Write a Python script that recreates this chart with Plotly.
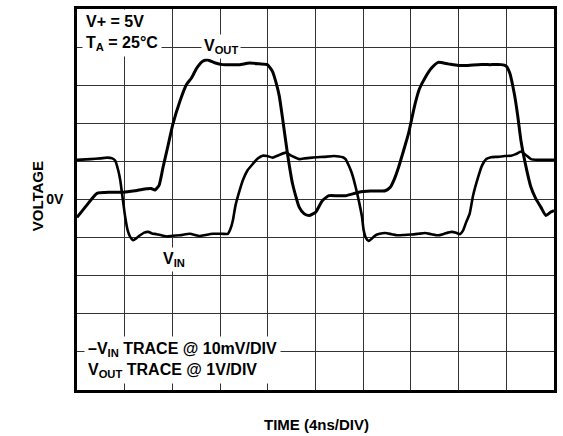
import plotly.graph_objects as go

# time in ns (4 ns/div), voltage in divisions (VOUT: 1 V/div, -VIN: 10 mV/div)
vout_t = [0, 0.79, 1.68, 2.79, 3.88, 4.88, 5.85, 6.21, 6.54, 6.88, 7.21, 7.63, 8.04, 8.63,
          9.18, 9.6, 10.04, 10.54, 10.96, 11.54, 12.21, 12.96, 13.63, 14.46, 15.29, 15.96,
          16.38, 16.71, 16.96, 17.23, 17.65, 18.07, 18.63, 19.04, 19.46, 20.02, 20.57, 21.13,
          21.79, 22.52, 23.63, 24.63, 25.85, 26.27, 26.63, 26.96, 27.38, 27.79, 28.35, 28.71,
          29.18, 29.73, 30.29, 31.13, 31.96, 32.79, 33.63, 34.63, 35.57, 35.96, 36.29, 36.68,
          36.96, 37.23, 37.63, 38.07, 38.46, 38.9, 39.32, 39.73, 40.0]
vout_v = [-0.47, -0.16, 0.16, 0.19, 0.19, 0.23, 0.28, 0.29, 0.25, 0.37, 0.84, 1.41, 1.98, 2.58,
          3.02, 3.19, 3.45, 3.63, 3.66, 3.59, 3.54, 3.54, 3.54, 3.58, 3.56, 3.54,
          3.37, 3.05, 2.72, 2.15, 1.2, 0.42, -0.2, -0.37, -0.42, -0.33, -0.03, 0.1,
          0.1, 0.1, 0.19, 0.22, 0.23, 0.32, 0.55, 0.84, 1.28, 1.72, 2.51, 2.9,
          3.19, 3.45, 3.6, 3.56, 3.52, 3.52, 3.54, 3.54, 3.54, 3.51, 3.32, 2.76,
          2.19, 1.54, 0.89, 0.32, 0.03, -0.2, -0.42, -0.33, -0.29]

vin_t = [0, 1.13, 1.96, 2.52, 2.96, 3.21, 3.46, 3.63, 3.83, 4.04, 4.25, 4.46, 4.73, 4.96,
         5.29, 5.63, 5.98, 6.29, 6.68, 7.52, 8.04, 8.63, 9.46, 10.29, 10.79, 11.4, 12.13,
         12.65, 12.88, 13.07, 13.29, 13.63, 13.9, 14.29, 14.73, 15.13, 15.57, 15.96, 16.4,
         16.96, 17.52, 17.96, 18.63, 19.13, 19.73, 20.71, 21.54, 21.96, 22.29, 22.52, 22.79,
         23.07, 23.38, 23.63, 23.9, 24.04, 24.25, 24.46, 24.71, 25.02, 25.38, 25.85, 26.38,
         26.96, 27.46, 28.07, 28.63, 29.18, 29.71, 30.29, 30.79, 31.4, 31.79, 32.1, 32.38,
         32.63, 32.93, 33.21, 33.63, 33.96, 34.32, 34.71, 35.29, 35.88, 36.4, 36.79, 37.23,
         37.63, 38.07, 38.63, 39.29, 40.0]
vin_v = [1.04, 1.06, 1.08, 1.1, 1.08, 1.02, 0.76, 0.5, 0.03, -0.46, -0.81, -0.98, -1.07, -1.02,
         -0.94, -0.87, -0.85, -0.89, -0.91, -0.97, -0.95, -0.94, -0.9, -0.96, -0.93, -0.9, -0.9,
         -0.9, -0.76, -0.55, -0.16, 0.23, 0.5, 0.76, 0.93, 1.07, 1.15, 1.14, 1.1,
         1.17, 1.23, 1.15, 1.06, 1.08, 1.1, 1.12, 1.14, 1.13, 1.11, 1.06, 0.89,
         0.67, 0.31, -0.03, -0.46, -0.81, -1.02, -1.09, -1.03, -0.94, -0.9, -0.88, -0.91,
         -0.94, -0.93, -0.92, -0.9, -0.88, -0.91, -0.94, -0.9, -0.85, -0.87, -0.91, -0.81,
         -0.6, -0.37, 0.1, 0.58, 0.89, 1.06, 1.11, 1.12, 1.14, 1.15, 1.19, 1.26,
         1.17, 1.06, 1.04, 1.04, 1.04]

y_tickvals = [0]
y_ticktext = ["0V"]

FONT = "Liberation Sans, Arial, sans-serif"
GRID = "#333333"

fig = go.Figure()
fig.add_trace(go.Scatter(x=vin_t, y=vin_v, mode="lines", name="VIN",
                         line=dict(color="black", width=2.6, shape="spline", smoothing=0.5)))
fig.add_trace(go.Scatter(x=vout_t, y=vout_v, mode="lines", name="VOUT",
                         line=dict(color="black", width=3, shape="spline", smoothing=0.5)))

W, H = 563, 436
L, R, T, B = 77, 6, 7, 46
pw, ph = W - L - R, H - T - B


def px(x):
    return (x - L) / pw


def py(y):
    return (H - B - y) / ph


def ann(text, x, y, xanchor="center", yanchor="middle", size=16, bg="white", align="center", pad=2):
    return dict(text=text, x=px(x), y=py(y), xref="paper", yref="paper", xanchor=xanchor,
                yanchor=yanchor, showarrow=False, align=align, bgcolor=bg, borderpad=pad,
                font=dict(family=FONT, size=size, color="black", weight="bold"))


annotations = [
    ann("V+ = 5V<br>T<sub>A</sub> = 25°C", 82, 31, xanchor="left", align="left", pad=3),
    ann("V<sub>OUT</sub>", 222, 45, pad=2),
    ann("V<sub>IN</sub>", 175, 259, pad=2),
    ann("–V<sub>IN</sub> TRACE @ 10mV/DIV<br>V<sub>OUT</sub> TRACE @ 1V/DIV", 84, 360,
        xanchor="left", align="left", pad=3),
    ann("VOLTAGE", 37, 195, bg="rgba(0,0,0,0)", size=15),
    ann("TIME (4ns/DIV)", 318, 425, bg="rgba(0,0,0,0)", size=15),
]
annotations[4]["textangle"] = -90

fig.update_layout(
    width=W, height=H,
    margin=dict(l=L, r=R, t=T, b=B),
    paper_bgcolor="white", plot_bgcolor="white",
    showlegend=False,
    annotations=annotations,
    xaxis=dict(range=[0, 40], dtick=4, tick0=0, showgrid=True, gridcolor=GRID, gridwidth=1.4,
               showticklabels=False, zeroline=False, showline=True, linecolor="black",
               linewidth=2.5, mirror=True, ticks=""),
    yaxis=dict(range=[-5, 5], tickvals=y_tickvals, ticktext=y_ticktext, showgrid=True,
               gridcolor=GRID, gridwidth=1.4, zeroline=False, showline=True,
               linecolor="black", linewidth=2.5, mirror=True, ticks="",
               minor=dict(dtick=1, tick0=0, showgrid=True, gridcolor=GRID, gridwidth=1.4, ticks=""),
               ticklabelstandoff=8,
               tickfont=dict(family=FONT, size=14, color="black", weight="bold")),
)

fig.write_html("out.html", config={"displayModeBar": False},
               post_script="document.body.style.margin='0';document.body.style.overflow='hidden';")
